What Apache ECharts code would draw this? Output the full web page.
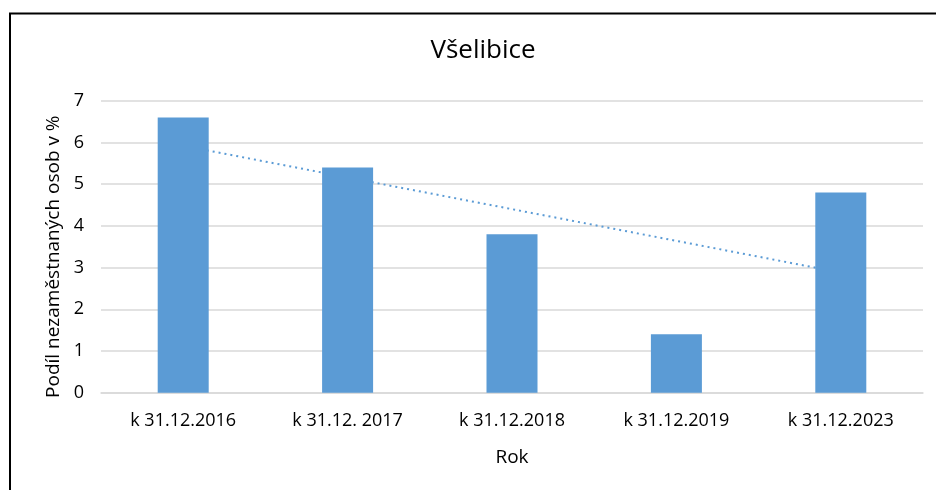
<!DOCTYPE html>
<html>
<head>
<meta charset="utf-8">
<script src="https://cdn.jsdelivr.net/npm/echarts@6/dist/echarts.min.js"></script>
<style>
html,body{margin:0;padding:0;background:#fff;}
#c{width:936px;height:490px;}
</style>
</head>
<body>
<div id="c"></div>
<script>
var categories = ['k 31.12.2016', 'k 31.12. 2017', 'k 31.12.2018', 'k 31.12.2019', 'k 31.12.2023'];
var values = [6.6, 5.4, 3.8, 1.4, 4.8];
var trendValues = [5.92, null, null, null, 2.88];
var yTicks = [0, 1, 2, 3, 4, 5, 6, 7];

var font = '"Open Sans", "Noto Sans", sans-serif';
var chart = echarts.init(document.getElementById('c'));
chart.setOption({
  animation: false,
  backgroundColor: '#fff',
  title: {
    text: 'Všelibice',
    left: 478, top: 33, textAlign: 'center',
    textStyle: {fontFamily: font, fontSize: 26, fontWeight: 'normal', color: '#000'}
  },
  graphic: [{
    type: 'rect', silent: true, z: 100,
    shape: {x: 10, y: 13.5, width: 2000, height: 2000},
    style: {fill: 'none', stroke: '#000', lineWidth: 2}
  }],
  grid: {left: 101, right: 13, top: 100.7, bottom: 97.3},
  xAxis: {
    type: 'category',
    data: categories,
    name: 'Rok',
    nameLocation: 'middle',
    nameGap: 55,
    nameTextStyle: {fontFamily: font, fontSize: 19, color: '#000'},
    axisLine: {lineStyle: {color: '#d9d9d9', width: 1.5}},
    axisTick: {show: false},
    axisLabel: {fontFamily: font, fontSize: 18, color: '#000', margin: 19}
  },
  yAxis: {
    type: 'value',
    min: yTicks[0], max: yTicks[yTicks.length - 1], interval: 1,
    name: 'Podíl nezaměstnaných osob v %',
    nameLocation: 'middle',
    nameGap: 38,
    nameTextStyle: {fontFamily: font, fontSize: 19, color: '#000', padding: [0, 20, 0, 0]},
    axisLine: {show: false},
    axisTick: {show: false},
    axisLabel: {fontFamily: font, fontSize: 18, color: '#000', margin: 17},
    splitLine: {lineStyle: {color: '#d9d9d9', width: 1.5}}
  },
  series: [{
    type: 'line',
    data: trendValues,
    connectNulls: true,
    symbol: 'none',
    z: 1,
    lineStyle: {color: '#5b9bd5', width: 2, type: [2, 4]}
  }, {
    type: 'bar',
    data: values,
    barWidth: 51,
    z: 3,
    itemStyle: {color: '#5b9bd5'}
  }]
});
</script>
</body>
</html>
